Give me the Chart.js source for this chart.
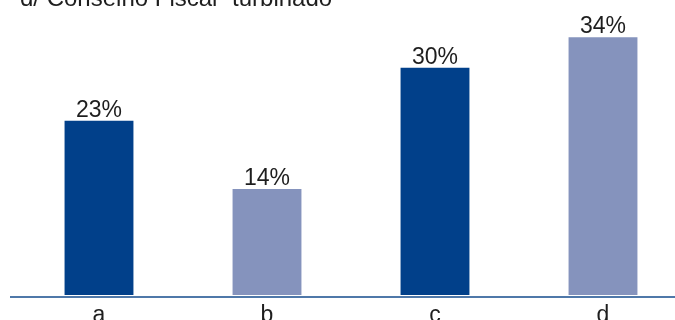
<!DOCTYPE html>
<html>
<head>
<meta charset="utf-8">
<script src="https://cdn.jsdelivr.net/npm/chart.js@4.4.1/dist/chart.umd.min.js"></script>
<style>
  html, body { margin: 0; padding: 0; background: #fff; overflow: hidden; }
  #wrap { position: relative; width: 690px; height: 320px; }
</style>
</head>
<body>
<div id="wrap"><canvas id="chart"></canvas></div>
<script>
// Chart content
const chartTitle = 'd/ Conselho Fiscal \u201cturbinado\u201d';
const categories = ['a', 'b', 'c', 'd'];
const shares = [23, 14, 30, 34];          // percent
const barColors = ['#01408a', '#8593bd', '#01408a', '#8593bd'];

const FONT = '"Liberation Sans", Arial, sans-serif';
const TEXT = '#1e1e1e';

// Title drawn at the very top of the canvas
const titlePlugin = {
  id: 'topTitle',
  afterDraw(chart) {
    const ctx = chart.ctx;
    ctx.save();
    ctx.font = '24px ' + FONT;
    ctx.fillStyle = TEXT;
    ctx.textAlign = 'left';
    ctx.textBaseline = 'alphabetic';
    ctx.fillText(chartTitle, 20, 6);
    ctx.restore();
  }
};

// Baseline under the bars
const baselinePlugin = {
  id: 'baseline',
  afterDatasetsDraw(chart) {
    const ctx = chart.ctx;
    const y0 = chart.scales.y.getPixelForValue(0);
    ctx.save();
    ctx.strokeStyle = '#4f78a9';
    ctx.lineWidth = 2;
    ctx.beginPath();
    ctx.moveTo(10, y0 + 2);
    ctx.lineTo(chart.width, y0 + 2);
    ctx.stroke();
    ctx.restore();
  }
};

// Percentage labels above each bar
const valueLabels = {
  id: 'valueLabels',
  afterDatasetsDraw(chart) {
    const ctx = chart.ctx;
    const meta = chart.getDatasetMeta(0);
    ctx.save();
    ctx.font = '23px ' + FONT;
    ctx.fillStyle = TEXT;
    ctx.textAlign = 'center';
    ctx.textBaseline = 'alphabetic';
    meta.data.forEach((bar, i) => {
      ctx.fillText(shares[i] + '%', bar.x, bar.y - 4);
    });
    ctx.restore();
  }
};

new Chart(document.getElementById('chart'), {
  type: 'bar',
  data: {
    labels: categories,
    datasets: [{
      data: shares,
      backgroundColor: barColors,
      borderWidth: 0,
      barPercentage: 0.41,
      categoryPercentage: 1
    }]
  },
  options: {
    responsive: true,
    maintainAspectRatio: false,
    animation: false,
    layout: { padding: { left: 15, right: 3, top: 7, bottom: 0 } },
    plugins: {
      legend: { display: false },
      tooltip: { enabled: false },
      title: { display: false }
    },
    scales: {
      x: {
        grid: { display: false, drawTicks: false },
        border: { display: false },
        ticks: {
          color: TEXT,
          padding: 9,
          font: { family: FONT, size: 23, lineHeight: 1 }
        },
        afterFit(scale) { scale.height = 25; }
      },
      y: {
        display: false,
        min: 0,
        max: 38
      }
    }
  },
  plugins: [titlePlugin, baselinePlugin, valueLabels]
});
</script>
</body>
</html>
